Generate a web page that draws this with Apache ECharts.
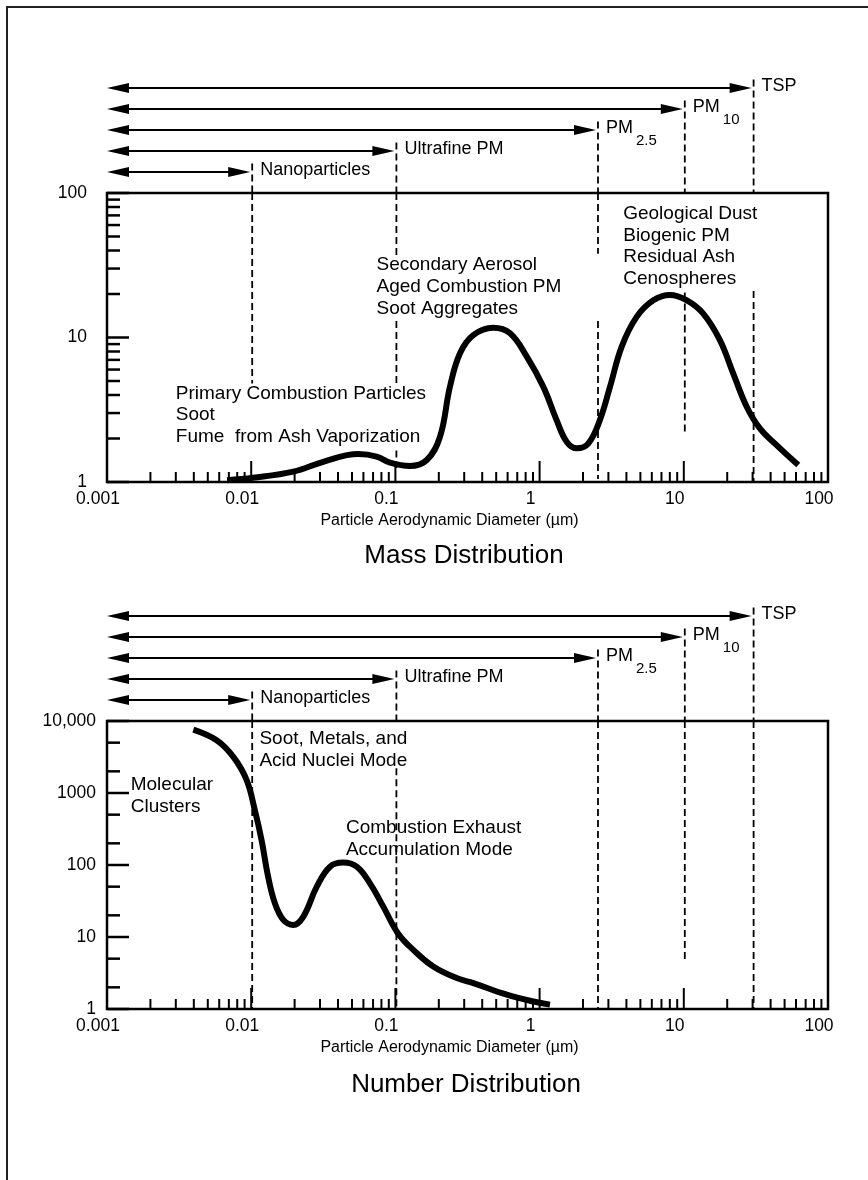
<!DOCTYPE html>
<html><head><meta charset="utf-8">
<script src="https://cdn.jsdelivr.net/npm/echarts@6/dist/echarts.min.js"></script>
<style>html,body{margin:0;padding:0;background:#fff}#c{width:868px;height:1180px}</style>
</head><body><div id="c"></div>
<script>
// ---------------- data ----------------
const xTickLabels = ['0.001', '0.01', '0.1', '1', '10', '100'];
const massTickLabels = ['1', '10', '100'];
const numberTickLabels = ['1', '10', '100', '1000', '10,000'];

// Mass distribution (diameter in µm, relative mass)
const massDiameter = [0.0068, 0.0103, 0.0196, 0.0316, 0.0553, 0.0742, 0.0918, 0.126, 0.165, 0.204, 0.239, 0.281, 0.347, 0.477, 0.624, 0.815, 1.06, 1.31, 1.54, 1.81, 2.18, 2.62, 3.08, 3.71, 4.71, 6.15, 8.02, 10.5, 13.6, 17.8, 22.0, 27.3, 33.7, 44.0, 62.2];
const massValue = [1.03, 1.07, 1.18, 1.38, 1.56, 1.50, 1.36, 1.29, 1.42, 2.06, 4.57, 7.81, 10.4, 11.7, 10.7, 7.37, 4.57, 2.69, 1.90, 1.71, 1.85, 2.69, 4.57, 8.65, 13.9, 18.1, 19.7, 18.1, 14.7, 9.6, 5.65, 3.32, 2.35, 1.80, 1.31];

// Number distribution (diameter in µm, relative number)
const numberDiameter = [0.00397, 0.00576, 0.00752, 0.0093, 0.0106, 0.0118, 0.0131, 0.0146, 0.0167, 0.0196, 0.023, 0.0285, 0.0352, 0.0435, 0.0539, 0.0666, 0.0824, 0.104, 0.133, 0.183, 0.266, 0.347, 0.592, 0.906, 1.18];
const numberValue = [7600, 5400, 3170, 1510, 578, 222, 68.9, 29.5, 17.3, 14.7, 19.2, 50, 94.7, 108, 94.7, 55.7, 26.4, 11.3, 6.63, 3.89, 2.69, 2.29, 1.58, 1.27, 1.15];

// Size classes: upper cut (µm), label and subscript
const sizeClassCut = [30, 10, 2.5, 0.1, 0.01];
const sizeClassName = ['TSP', 'PM', 'PM', 'Ultrafine PM', 'Nanoparticles'];
const sizeClassSub = ['', '10', '2.5', '', ''];
const sizeClassRow = [5, 4, 3, 2, 1];

// Dashed size-cut guide segments inside the plots: [diameter, from value, to value]
const massGuides = [[0.01, 4.8, 100], [0.1, 37, 100], [0.1, 4.7, 13], [0.1, 1.25, 1.65], [2.5, 38, 100], [2.5, 1.05, 13], [10, 2.1, 20.5], [30, 1, 21]];
const numberGuides = [[0.01, 1, 10000], [0.1, 1, 2200], [2.5, 1, 10000], [10, 4.4, 10000], [30, 1, 10000]];

// Mode annotations
const massNotes = ['Primary Combustion Particles\nSoot\nFume  from Ash Vaporization', 'Secondary Aerosol\nAged Combustion PM\nSoot Aggregates', 'Geological Dust\nBiogenic PM\nResidual Ash\nCenospheres'];
const numberNotes = ['Molecular\nClusters', 'Soot, Metals, and\nAcid Nuclei Mode', 'Combustion Exhaust\nAccumulation Mode'];

const xDecades = [0.001, 0.01, 0.1, 1, 10, 100];
const massDecades = [1, 10, 100];
const numberDecades = [1, 10, 100, 1000, 10000];
const massMinor = [2, 3, 4, 5, 6, 7, 8, 9];
const xMinor = [2, 3, 4, 5, 6, 7, 8, 9];
const numberMinor = [2, 5];

// ---------------- chart ----------------
const FONT = '"Liberation Sans", Arial, Helvetica, sans-serif';
const chart = echarts.init(document.getElementById('c'), null, {renderer: 'canvas', width: 868, height: 1180});

const ctx = document.createElement('canvas').getContext('2d');
function textW(t, size) { ctx.font = size + 'px ' + FONT; return ctx.measureText(t).width; }

function tickList(decades, minor) {
  const out = [];
  decades.forEach((d, i) => {
    out.push([d, 1]);
    if (i < decades.length - 1) minor.forEach(m => out.push([d * m, 0]));
  });
  return out;
}

const ROW = 21;
const grids = [
  {left: 107, top: 193 - 6 * ROW, width: 721, height: 6 * ROW, show: false},
  {left: 107, top: 193, width: 721, height: 289, show: true, borderColor: '#000', borderWidth: 2.5, backgroundColor: 'transparent'},
  {left: 107, top: 721 - 6 * ROW, width: 721, height: 6 * ROW, show: false},
  {left: 107, top: 721, width: 721, height: 288, show: true, borderColor: '#000', borderWidth: 2.5, backgroundColor: 'transparent'}
].map(g => Object.assign({outerBoundsMode: 'none', containLabel: false}, g));

function plotXAxis(gridIndex) {
  return {
    gridIndex, type: 'log', logBase: 10, min: 0.001, max: 100,
    axisLine: {show: false}, axisTick: {show: false}, splitLine: {show: false}, minorTick: {show: false},
    axisLabel: {
      color: '#000', fontFamily: FONT, fontSize: 17.5, margin: 8, padding: [0, 18, 0, 0],
      formatter: v => xTickLabels[Math.round(Math.log10(v)) + 3]
    },
    name: 'Particle Aerodynamic Diameter (µm)', nameLocation: 'middle', nameGap: 31,
    nameTextStyle: {color: '#000', fontFamily: FONT, fontSize: 16, padding: [0, 36, 0, 0]}
  };
}
function hiddenX(gridIndex) { return {gridIndex, type: 'log', logBase: 10, min: 0.001, max: 100, show: false}; }
function hiddenY(gridIndex) { return {gridIndex, type: 'value', min: 0, max: 6, show: false}; }
function plotYAxis(gridIndex, max, labels, margin) {
  return {
    gridIndex, type: 'log', logBase: 10, min: 1, max,
    axisLine: {show: false}, axisTick: {show: false}, splitLine: {show: false}, minorTick: {show: false},
    axisLabel: {color: '#000', fontFamily: FONT, fontSize: 17.5, margin,
      formatter: v => labels[Math.round(Math.log10(v))]}
  };
}

function curveSeries(xi, yi, xs, ys) {
  return {
    type: 'line', xAxisIndex: xi, yAxisIndex: yi, data: xs.map((x, i) => [x, ys[i]]),
    smooth: 0.4, showSymbol: false, symbol: 'none', silent: true, z: 3,
    lineStyle: {color: '#000', width: 6}
  };
}

function xTickSeries(xi, yi, yMin, ticks) {
  return {
    type: 'custom', xAxisIndex: xi, yAxisIndex: yi, silent: true, clip: false, z: 6, data: ticks,
    renderItem(params, api) {
      const p = api.coord([api.value(0), yMin]);
      const len = api.value(1) ? 21 : 10;
      return {type: 'line', shape: {x1: p[0], y1: p[1], x2: p[0], y2: p[1] - len}, style: {stroke: '#000', lineWidth: 2}};
    }
  };
}
function yTickSeries(xi, yi, ticks) {
  return {
    type: 'custom', xAxisIndex: xi, yAxisIndex: yi, silent: true, clip: false, z: 6, data: ticks,
    renderItem(params, api) {
      const p = api.coord([0.001, api.value(0)]);
      const len = api.value(1) ? 22 : 13;
      return {type: 'line', shape: {x1: p[0], y1: p[1], x2: p[0] + len, y2: p[1]}, style: {stroke: '#000', lineWidth: 2.5}};
    }
  };
}

function arrowSeries(xi, yi) {
  return {
    type: 'custom', xAxisIndex: xi, yAxisIndex: yi, silent: true, clip: false, z: 4,
    data: sizeClassCut.map((c, i) => [0.001, c, sizeClassRow[i]]),
    renderItem(params, api) {
      const i = params.dataIndex;
      const a = api.coord([api.value(0), api.value(2)]);
      const b = api.coord([api.value(1), api.value(2)]);
      const top = api.coord([api.value(1), api.value(2) + 0.4]);
      const base = api.coord([api.value(1), 0]);
      const y = a[1], L = 22, H = 5, bx = b[0] - 1;
      const children = [
        {type: 'line', shape: {x1: a[0] + L - 2, y1: y, x2: bx - L + 2, y2: y}, style: {stroke: '#000', lineWidth: 2}},
        {type: 'polygon', shape: {points: [[a[0], y], [a[0] + L, y - H], [a[0] + L, y + H]]}, style: {fill: '#000'}},
        {type: 'polygon', shape: {points: [[bx, y], [bx - L, y - H], [bx - L, y + H]]}, style: {fill: '#000'}},
        {type: 'line', shape: {x1: b[0] + 1, y1: top[1], x2: b[0] + 1, y2: base[1]}, style: {stroke: '#000', lineWidth: 1.8, lineDash: [7, 4]}},
        {type: 'text', x: b[0] + 9, y: y - 1.5, style: {text: sizeClassName[i], font: '18px ' + FONT, fill: '#000', align: 'left', verticalAlign: 'middle', textAlign: 'left', textVerticalAlign: 'middle'}}
      ];
      if (sizeClassSub[i]) {
        children.push({type: 'text', x: b[0] + 9 + textW(sizeClassName[i], 18) + 3, y: y + 10.5,
          style: {text: sizeClassSub[i], font: '15px ' + FONT, fill: '#000', align: 'left', verticalAlign: 'middle', textAlign: 'left', textVerticalAlign: 'middle'}});
      }
      return {type: 'group', children};
    }
  };
}

function guideSeries(xi, yi, guides) {
  return {
    type: 'custom', xAxisIndex: xi, yAxisIndex: yi, silent: true, clip: false, z: 2, data: guides,
    renderItem(params, api) {
      const p1 = api.coord([api.value(0), api.value(2)]);
      const p2 = api.coord([api.value(0), api.value(1)]);
      return {type: 'line', shape: {x1: p1[0] + 1, y1: p1[1], x2: p2[0] + 1, y2: p2[1]}, style: {stroke: '#000', lineWidth: 1.8, lineDash: [7, 4]}};
    }
  };
}

function noteSeries(xi, yi, notes, anchors) {
  return {
    type: 'custom', xAxisIndex: xi, yAxisIndex: yi, silent: true, clip: false, z: 4,
    data: anchors,
    renderItem(params, api) {
      const p = api.coord([api.value(0), api.value(1)]);
      return {type: 'text', x: p[0], y: p[1] - 10.8,
        style: {text: notes[params.dataIndex], font: '19px ' + FONT, lineHeight: 21.7, fill: '#000', align: 'left', verticalAlign: 'top', textAlign: 'left', textVerticalAlign: 'top'}};
    }
  };
}

const titleStyle = {color: '#000', fontFamily: FONT, fontSize: 26, fontWeight: 'normal'};
const option = {
  animation: false,
  backgroundColor: '#fff',
  grid: grids,
  xAxis: [hiddenX(0), plotXAxis(1), hiddenX(2), plotXAxis(3)],
  yAxis: [hiddenY(0), plotYAxis(1, 100, massTickLabels, 20), hiddenY(2), plotYAxis(3, 10000, numberTickLabels, 11)],
  title: [
    {text: 'Mass Distribution', left: 459, top: 538, textAlign: 'center', textStyle: titleStyle},
    {text: 'Number Distribution', left: 461, top: 1067, textAlign: 'center', textStyle: titleStyle}
  ],
  graphic: [
    {type: 'rect', shape: {x: 7, y: 7, width: 900, height: 1200}, style: {fill: 'none', stroke: '#222', lineWidth: 2}, silent: true}
  ],
  series: [
    guideSeries(1, 1, massGuides),
    curveSeries(1, 1, massDiameter, massValue),
    xTickSeries(1, 1, 1, tickList(xDecades, xMinor)),
    yTickSeries(1, 1, tickList(massDecades, massMinor)),
    arrowSeries(0, 0),
    noteSeries(1, 1, massNotes, [[0.003, 4.1], [0.074, 31.7], [3.8, 72]]),

    guideSeries(3, 3, numberGuides),
    curveSeries(3, 3, numberDiameter, numberValue),
    xTickSeries(3, 3, 1, tickList(xDecades, xMinor)),
    yTickSeries(3, 3, tickList(numberDecades, numberMinor)),
    arrowSeries(2, 2),
    noteSeries(3, 3, numberNotes, [[0.00146, 1285], [0.0114, 5700], [0.0454, 329]])
  ]
};
chart.setOption(option);
</script>
</body></html>
